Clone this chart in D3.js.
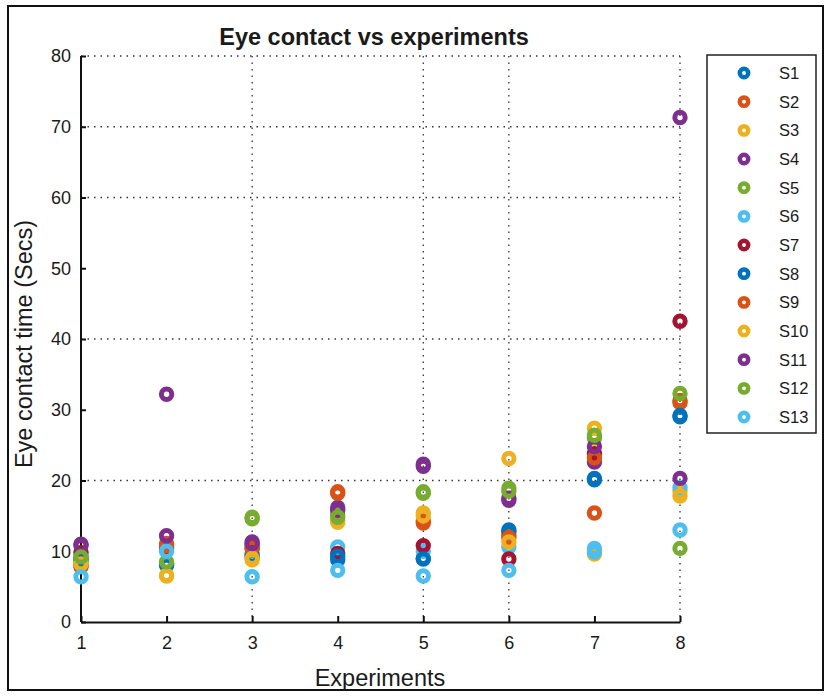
<!DOCTYPE html>
<html>
<head>
<meta charset="utf-8">
<script src="https://cdn.jsdelivr.net/npm/d3@7/dist/d3.min.js"></script>
<style>
  html, body { margin: 0; padding: 0; background: #fff; }
  svg text { font-family: "Liberation Sans", Arial, sans-serif; fill: #1a1a1a; }
</style>
</head>
<body>
<svg id="chart" width="831" height="696"></svg>
<script>
// Experiments on the x axis
const experiments = [1, 2, 3, 4, 5, 6, 7, 8];

// Subjects and their eye contact time (seconds) per experiment
const subjects = ["S1","S2","S3","S4","S5","S6","S7","S8","S9","S10","S11","S12","S13"];
const S1  = [8.6, 8.0, 9.5, 8.8, 9.0, 13.0, 20.1, 29.0];
const S2  = [7.8, 11.1, 10.8, 18.4, 14.0, 12.3, 15.4, 31.0];
const S3  = [8.3, 6.5, 8.8, 14.1, 15.4, 23.1, 9.6, 18.5];
const S4  = [11.0, 32.2, 11.3, 16.2, 22.3, 17.2, 22.6, 71.3];
const S5  = [8.8, 8.3, 14.8, 15.2, 18.2, 18.9, 26.0, 10.4];
const S6  = [9.4, 10.2, 9.5, 10.6, 10.0, 10.6, 10.4, 19.0];
const S7  = [9.8, 10.5, 10.4, 9.7, 10.8, 8.9, 23.8, 42.5];
const S8  = [9.0, 8.2, 9.3, 9.3, 8.9, 12.8, 20.3, 29.2];
const S9  = [8.0, 10.8, 10.5, 18.2, 14.3, 11.9, 23.2, 31.3];
const S10 = [8.2, 6.6, 9.0, 14.4, 15.0, 11.3, 27.4, 17.8];
const S11 = [10.8, 12.2, 11.1, 15.8, 22.0, 17.5, 24.8, 20.3];
const S12 = [9.2, 8.5, 14.6, 14.8, 18.4, 18.5, 26.4, 32.3];
const S13 = [6.4, 10.0, 6.4, 7.3, 6.5, 7.3, 9.9, 13.0];
const seriesValues = [S1, S2, S3, S4, S5, S6, S7, S8, S9, S10, S11, S12, S13];

// Axis ticks and grid lines
const xTicks = [1, 2, 3, 4, 5, 6, 7, 8];
const yTicks = [0, 10, 20, 30, 40, 50, 60, 70, 80];
const xGrid = [3, 5, 6, 8];
const yGrid = [20, 40, 60, 70, 80];

// Colour order (cycles after seven series)
const palette = ["#0072BD", "#D95319", "#EDB120", "#7E2F8E", "#77AC30", "#4DBEEE", "#A2142F"];

const svg = d3.select("#chart");

// Figure frame
svg.append("rect")
  .attr("x", 8).attr("y", 6).attr("width", 815).attr("height", 684)
  .attr("fill", "#fff").attr("stroke", "#111").attr("stroke-width", 2);

const x = d3.scaleLinear().domain([1, 8]).range([81, 680]);
const y = d3.scaleLinear().domain([0, 80]).range([622, 56]);
const color = d3.scaleOrdinal().domain(subjects).range(palette);

// Dotted grid
const grid = svg.append("g").attr("stroke", "#333").attr("stroke-width", 1.3)
  .attr("stroke-dasharray", "1.5,5");
grid.selectAll("line.gx").data(xGrid).join("line").attr("class", "gx")
  .attr("x1", d => x(d)).attr("x2", d => x(d))
  .attr("y1", y(80)).attr("y2", y(0));
grid.selectAll("line.gy").data(yGrid).join("line").attr("class", "gy")
  .attr("x1", x(1)).attr("x2", x(8))
  .attr("y1", d => y(d)).attr("y2", d => y(d));

// Axes
const xAxis = d3.axisBottom(x).tickValues(xTicks).tickFormat(d3.format("d"))
  .tickSizeInner(-6).tickSizeOuter(0).tickPadding(14);
const yAxis = d3.axisLeft(y).tickValues(yTicks).tickFormat(d3.format("d"))
  .tickSizeInner(-5).tickSizeOuter(0).tickPadding(10);

const gx = svg.append("g").attr("transform", `translate(0,${y(0)})`).call(xAxis);
const gy = svg.append("g").attr("transform", `translate(${x(1)},0)`).call(yAxis);
[gx, gy].forEach(g => {
  g.select(".domain").attr("stroke", "#111").attr("stroke-width", 2);
  g.selectAll(".tick line").attr("stroke", "#111").attr("stroke-width", 2);
  g.selectAll(".tick text").attr("font-size", 18)
    .attr("font-family", "'Liberation Sans', Arial, sans-serif").attr("fill", "#1a1a1a");
});
gy.select(".domain").attr("d", `M0,${y(0)}V${y(80)}`);

// Points, one group per subject
const pts = svg.append("g");
seriesValues.forEach((vals, i) => {
  pts.append("g").selectAll("circle")
    .data(vals.map((v, j) => ({ e: experiments[j], v })))
    .join("circle")
    .attr("cx", d => x(d.e)).attr("cy", d => y(d.v))
    .attr("r", 5.2).attr("fill", "none")
    .attr("stroke", color(subjects[i])).attr("stroke-width", 5);
});

// Title and axis labels
svg.append("text").attr("x", 374).attr("y", 45).attr("text-anchor", "middle")
  .attr("font-size", 23.5).attr("font-weight", "bold").text("Eye contact vs experiments");
svg.append("text").attr("x", 380).attr("y", 686).attr("text-anchor", "middle")
  .attr("font-size", 23.5).text("Experiments");
svg.append("text").attr("transform", "translate(32,344) rotate(-90)")
  .attr("text-anchor", "middle").attr("font-size", 23.5).text("Eye contact time (Secs)");

// Legend
const legY = d3.scalePoint().domain(subjects).range([73, 417]);
const leg = svg.append("g");
leg.append("rect").attr("x", 707).attr("y", 55).attr("width", 109).attr("height", 378)
  .attr("fill", "#fff").attr("stroke", "#222").attr("stroke-width", 1.5);
const items = leg.selectAll("g.item").data(subjects).join("g").attr("class", "item")
  .attr("transform", d => `translate(0,${legY(d)})`);
items.append("circle").attr("cx", 744).attr("cy", 0).attr("r", 4.2)
  .attr("fill", "none").attr("stroke", d => color(d)).attr("stroke-width", 4.5);
items.append("text").attr("x", 779).attr("y", 6).attr("font-size", 16.5).text(d => d);
</script>
</body>
</html>
